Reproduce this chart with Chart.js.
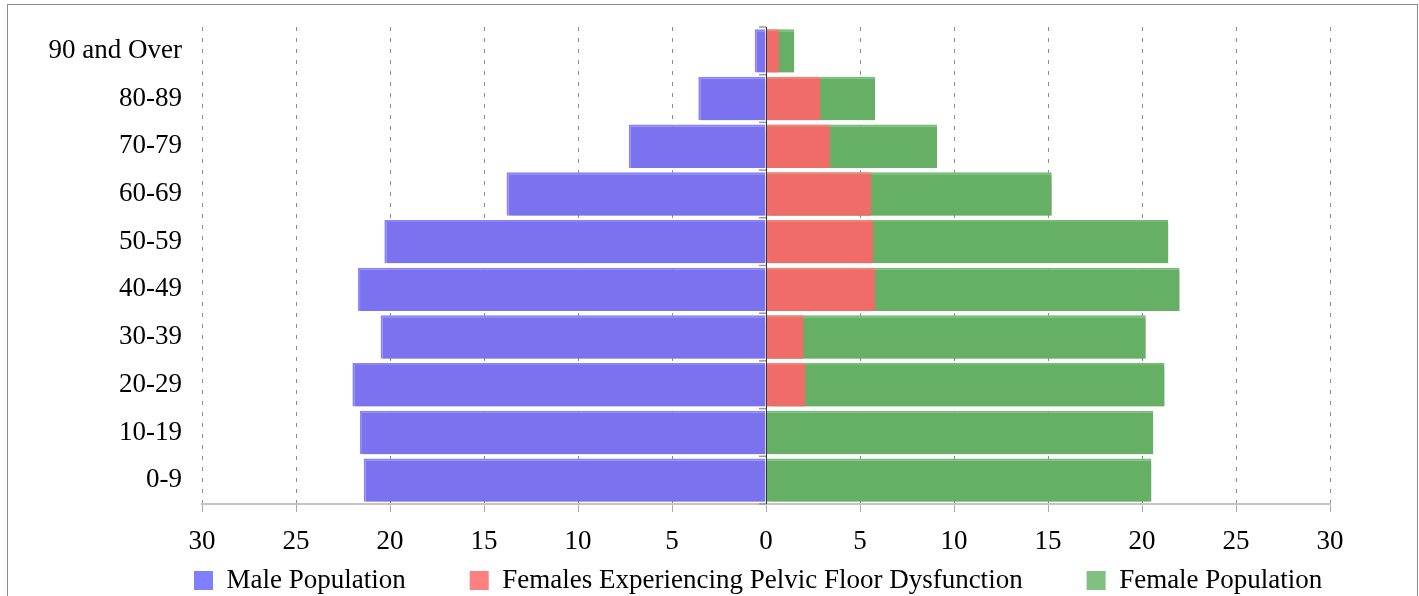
<!DOCTYPE html>
<html lang="en">
<head>
    <meta charset="UTF-8">
    <title>Population pyramid</title>
    <script src="https://cdn.jsdelivr.net/npm/chart.js"></script>
    <style>
        body { margin: 0; background: #fff; }
        .wrap { position: relative; width: 1419px; height: 596px; overflow: hidden; }
        .frame { position: absolute; left: 7px; top: 4px; width: 1409px; height: 700px; border: 1px solid #8c8c8c; pointer-events: none; }
    </style>
</head>
<body>
    <div class="wrap">
        <canvas id="pyramid" width="1419" height="596"></canvas>
        <div class="frame"></div>
    </div>

    <script>
        // Age groups, top to bottom
        const ageGroups = ['90 and Over', '80-89', '70-79', '60-69', '50-59', '40-49', '30-39', '20-29', '10-19', '0-9'];

        // Values (percent)
        const malePopulation   = [0.6, 3.6, 7.3, 13.8, 20.3, 21.7, 20.5, 22.0, 21.6, 21.4];
        const pelvicFloor      = [0.7, 2.9, 3.4, 5.6, 5.7, 5.8, 2.0, 2.1, 0, 0];
        const femalePopulation = [1.5, 5.8, 9.1, 15.2, 21.4, 22.0, 20.2, 21.2, 20.6, 20.5];

        // Axis: 30 .. 0 .. 30 in steps of 5
        const axisLimit = 30;
        const axisStep = 5;

        const legendColors = ['#8080ff', '#ff8080', '#80c080'];

        Chart.defaults.font.family = '"Liberation Serif", "Times New Roman", serif';
        Chart.defaults.font.size = 27;
        Chart.defaults.color = '#000';

        // Light grey drop shadow behind the male and female bars
        const barShadow = {
            id: 'barShadow',
            beforeDatasetDraw(chart, args) {
                if (args.index === 1) return;
                const ctx = chart.ctx;
                ctx.save();
                ctx.shadowColor = 'rgba(0, 0, 0, 0.15)';
                ctx.shadowOffsetX = 3;
                ctx.shadowOffsetY = 4;
                ctx.shadowBlur = 1;
            },
            afterDatasetDraw(chart, args) {
                if (args.index === 1) return;
                chart.ctx.restore();
            }
        };

        // Dark zero line with small marks between the age groups
        const zeroLine = {
            id: 'zeroLine',
            afterDraw(chart) {
                const ctx = chart.ctx;
                const area = chart.chartArea;
                const x0 = chart.scales.x.getPixelForValue(0);
                const step = (area.bottom - area.top) / ageGroups.length;
                ctx.save();
                ctx.strokeStyle = '#999';
                ctx.lineWidth = 1.5;
                for (let i = 0; i <= ageGroups.length; i++) {
                    const y = area.top + i * step;
                    ctx.beginPath();
                    ctx.moveTo(x0 - 7, y);
                    ctx.lineTo(x0, y);
                    ctx.stroke();
                }
                ctx.strokeStyle = '#333';
                ctx.lineWidth = 1;
                ctx.beginPath();
                ctx.moveTo(x0 + 0.5, area.top);
                ctx.lineTo(x0 + 0.5, area.bottom);
                ctx.stroke();
                ctx.restore();
            }
        };

        // Move the legend row under the plot like in the original
        const legendPlace = {
            id: 'legendPlace',
            afterLayout(chart) {
                const lg = chart.legend;
                if (!lg || !lg.lineWidths) return;
                const pad = lg.options.labels.padding;
                const firstX = (lg.left + pad + lg.right - lg.lineWidths[0]) / 2;
                const dx = 194 - firstX;
                lg.left += dx;
                lg.right += dx;
                lg.top = 567 - pad;
                lg.bottom = chart.height;
            }
        };

        const ctx = document.getElementById('pyramid').getContext('2d');
        new Chart(ctx, {
            type: 'bar',
            data: {
                labels: ageGroups,
                datasets: [
                    {
                        label: 'Male Population',
                        data: malePopulation.map(v => -v),
                        backgroundColor: '#7b72ee',
                        borderColor: '#8983ff',
                        borderWidth: { top: 2, left: 2, right: 0, bottom: 0 },
                        order: 0
                    },
                    {
                        label: 'Females Experiencing Pelvic Floor Dysfunction',
                        data: pelvicFloor,
                        backgroundColor: '#f06c68',
                        borderColor: '#ff7d79',
                        borderWidth: { top: 2, left: 0, right: 0, bottom: 0 },
                        order: 1
                    },
                    {
                        label: 'Female Population',
                        data: femalePopulation,
                        backgroundColor: '#66b066',
                        borderColor: '#74be74',
                        borderWidth: { top: 2, left: 0, right: 0, bottom: 0 },
                        order: 2
                    }
                ]
            },
            options: {
                indexAxis: 'y',
                responsive: false,
                animation: false,
                layout: {
                    padding: { left: 0, right: 89, top: 27, bottom: 0 }
                },
                datasets: {
                    bar: {
                        grouped: false,
                        borderSkipped: false,
                        barPercentage: 0.91,
                        categoryPercentage: 1
                    }
                },
                scales: {
                    x: {
                        min: -axisLimit,
                        max: axisLimit,
                        z: 1,
                        ticks: {
                            stepSize: axisStep,
                            padding: 14,
                            callback: value => Math.abs(value)
                        },
                        grid: {
                            color: 'rgba(0, 0, 0, 0.45)',
                            tickColor: '#aaa',
                            tickLength: 8,
                            tickBorderDash: [1, 0]
                        },
                        border: {
                            color: '#c4c4c4',
                            width: 2,
                            dash: [4, 7]
                        },
                        afterFit(scale) {
                            scale.height = 60;
                            scale.paddingLeft = 0;
                            scale.paddingRight = 0;
                        }
                    },
                    y: {
                        grid: { display: false, drawTicks: false },
                        border: { display: false },
                        ticks: { padding: 20 },
                        afterFit(scale) {
                            scale.width = 202;
                            scale.paddingTop = 0;
                            scale.paddingBottom = 0;
                        }
                    }
                },
                plugins: {
                    tooltip: { enabled: false },
                    legend: {
                        position: 'bottom',
                        maxHeight: 32,
                        labels: {
                            boxWidth: 19,
                            boxHeight: 19,
                            padding: 64,
                            generateLabels(chart) {
                                const items = Chart.defaults.plugins.legend.labels.generateLabels(chart);
                                items.forEach(item => {
                                    item.fillStyle = legendColors[item.datasetIndex];
                                    item.strokeStyle = legendColors[item.datasetIndex];
                                    item.lineWidth = 0;
                                });
                                return items;
                            }
                        }
                    }
                }
            },
            plugins: [barShadow, zeroLine, legendPlace]
        });
    </script>
</body>
</html>
